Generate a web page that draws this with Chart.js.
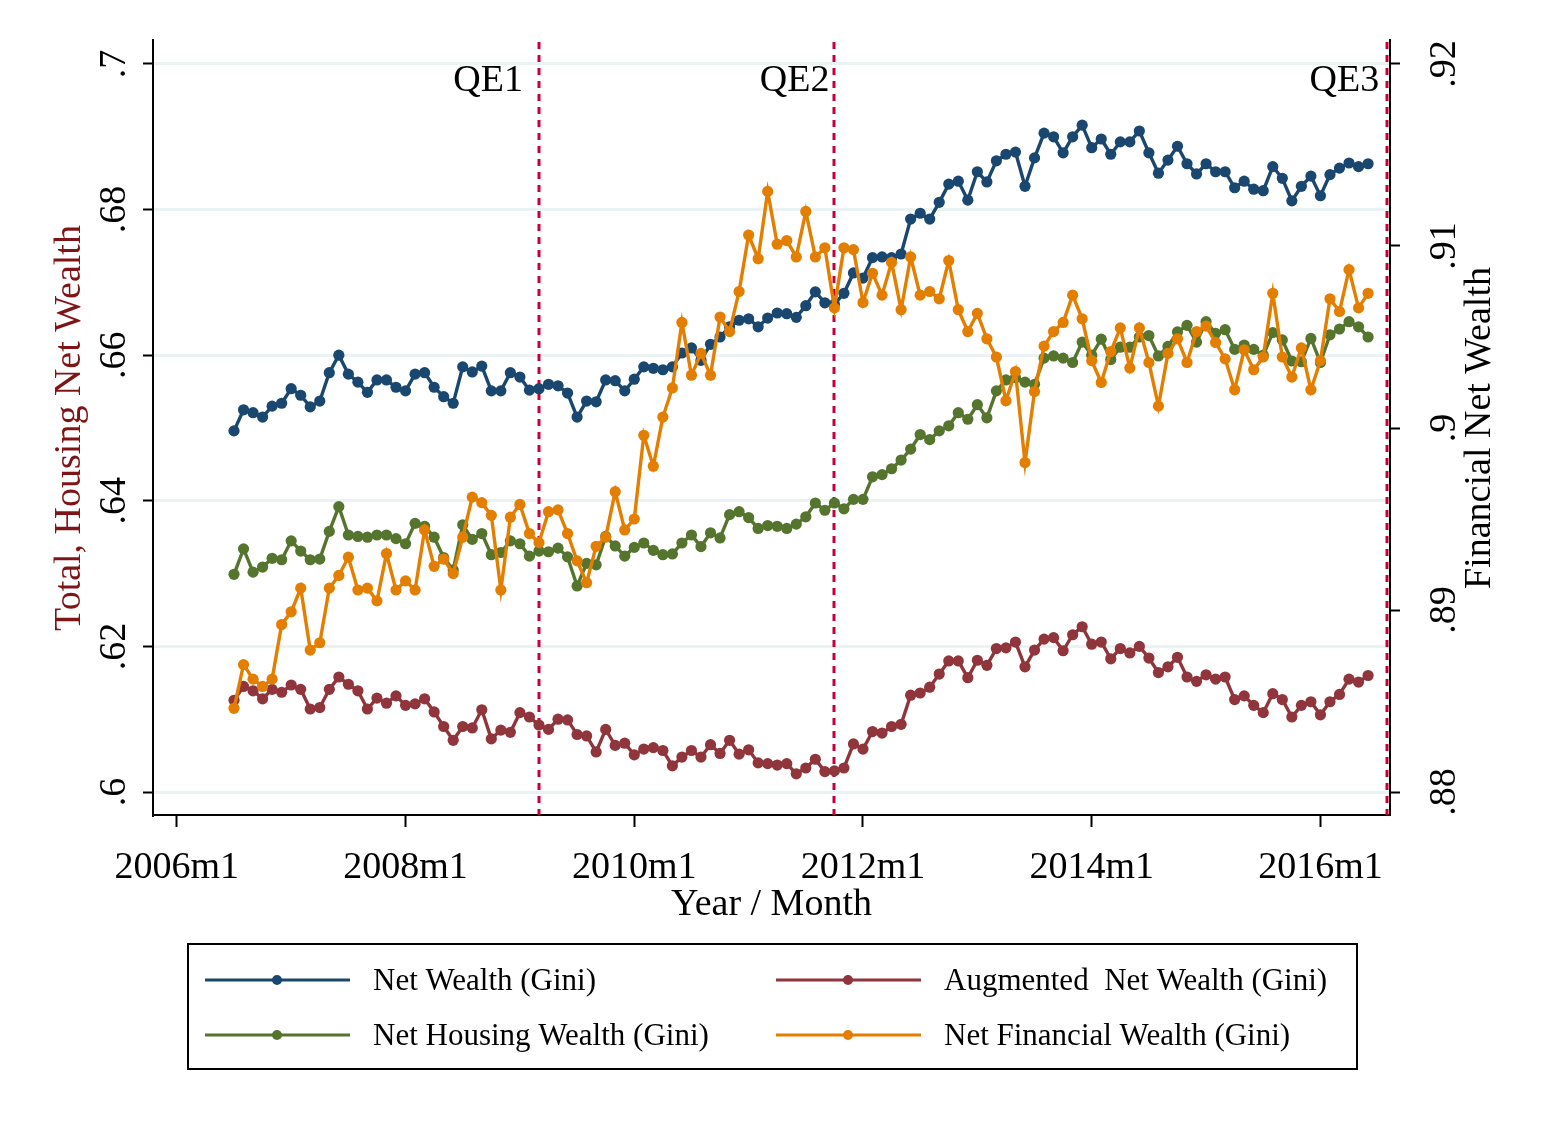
<!DOCTYPE html>
<html>
<head>
<meta charset="utf-8">
<script src="https://cdn.jsdelivr.net/npm/chart.js@4.4.1/dist/chart.umd.min.js"></script>
<style>
html, body { margin: 0; padding: 0; background: #fff; }
canvas { display: block; }
</style>
</head>
<body>
<canvas id="myChart" width="1545" height="1124"></canvas>
<script>
// monthly observations, 2006m7 .. 2016m6
const firstYear = 2006, firstMonth = 7, nObs = 120;
const months = [];
for (let i = 0; i < nObs; i++) {
    const m = firstMonth - 1 + i;
    months.push((firstYear + Math.floor(m / 12)) + 'm' + (m % 12 + 1));
}

const netWealth = [
    .6496, .6525, .6521, .6515, .6530, .6534, .6554, .6545, .6529, .6537,
    .6576, .6600, .6574, .6563, .6549, .6566, .6566, .6556, .6551, .6574,
    .6576, .6556, .6543, .6534, .6584, .6577, .6585, .6551, .6551, .6576,
    .6570, .6552, .6554, .6560, .6558, .6548, .6515, .6537, .6536, .6566,
    .6565, .6551, .6567, .6584, .6582, .6580, .6584, .6603, .6610, .6593,
    .6615, .6625, .6639, .6648, .6650, .6639, .6651, .6658, .6657, .6652,
    .6668, .6687, .6672, .6670, .6685, .6713, .6706, .6734, .6735, .6734,
    .6739, .6787, .6795, .6787, .6810, .6835, .6839, .6813, .6852, .6838,
    .6867, .6876, .6879, .6832, .6871, .6905, .6900, .6878, .6900, .6916,
    .6885, .6897, .6876, .6893, .6893, .6908, .6878, .6850, .6868, .6887,
    .6863, .6849, .6863, .6852, .6852, .6830, .6839, .6828, .6826, .6859,
    .6843, .6812, .6832, .6846, .6819, .6848, .6857, .6864, .6859, .6863
];
const augmentedWealth = [
    .6126, .6145, .6139, .6128, .6141, .6137, .6147, .6141, .6114, .6116,
    .6141, .6158, .6148, .6139, .6114, .6129, .6122, .6132, .6119, .6121,
    .6128, .6110, .6090, .6071, .6090, .6088, .6113, .6073, .6085, .6082,
    .6109, .6103, .6092, .6086, .6100, .6099, .6079, .6077, .6055, .6086,
    .6064, .6067, .6051, .6059, .6061, .6057, .6036, .6048, .6057, .6048,
    .6065, .6053, .6071, .6052, .6058, .6040, .6039, .6037, .6039, .6025,
    .6033, .6045, .6028, .6029, .6033, .6066, .6059, .6083, .6081, .6090,
    .6093, .6133, .6136, .6144, .6162, .6180, .6180, .6157, .6181, .6174,
    .6197, .6198, .6206, .6172, .6195, .6210, .6212, .6194, .6216, .6227,
    .6203, .6206, .6183, .6197, .6191, .6200, .6184, .6164, .6172, .6185,
    .6158, .6152, .6161, .6155, .6158, .6127, .6132, .6119, .6109, .6135,
    .6127, .6103, .6119, .6124, .6106, .6124, .6134, .6155, .6151, .6160
];
const housingWealth = [
    .6299, .6334, .6302, .6309, .6321, .6319, .6345, .6331, .6319, .6320,
    .6358, .6392, .6353, .6351, .6350, .6353, .6353, .6348, .6341, .6369,
    .6365, .6350, .6322, .6305, .6367, .6347, .6355, .6326, .6329, .6345,
    .6341, .6324, .6331, .6330, .6335, .6323, .6283, .6314, .6312, .6351,
    .6338, .6324, .6336, .6342, .6332, .6326, .6327, .6342, .6353, .6337,
    .6356, .6349, .6381, .6385, .6377, .6362, .6366, .6365, .6362, .6368,
    .6378, .6397, .6387, .6397, .6389, .6402, .6402, .6433, .6436, .6444,
    .6456, .6471, .6491, .6484, .6496, .6503, .6521, .6512, .6532, .6514,
    .6551, .6566, .6569, .6563, .6560, .6596, .6599, .6596, .6590, .6618,
    .6600, .6622, .6594, .6611, .6611, .6625, .6627, .6599, .6612, .6632,
    .6641, .6618, .6646, .6630, .6635, .6608, .6614, .6608, .6600, .6631,
    .6621, .6592, .6591, .6623, .6590, .6628, .6636, .6646, .6639, .6625
];
const financialWealth = [
    .8846, .8870, .8862, .8858, .8862, .8892, .8899, .8912, .8878, .8882,
    .8912, .8919, .8929, .8911, .8912, .8905, .8931, .8911, .8916, .8911,
    .8944, .8924, .8928, .8920, .8940, .8962, .8959, .8952, .8911, .8951,
    .8958, .8942, .8937, .8954, .8955, .8942, .8927, .8915, .8935, .8940,
    .8965, .8944, .8950, .8996, .8979, .9006, .9022, .9058, .9029, .9041,
    .9029, .9061, .9053, .9075, .9106, .9093, .9130, .9101, .9103, .9094,
    .9119, .9094, .9099, .9066, .9099, .9098, .9069, .9085, .9073, .9091,
    .9065, .9094, .9073, .9075, .9071, .9092, .9065, .9053, .9063, .9049,
    .9039, .9015, .9031, .8981, .9020, .9045, .9053, .9058, .9073, .9060,
    .9037, .9025, .9042, .9055, .9033, .9055, .9036, .9012, .9041, .9049,
    .9036, .9053, .9056, .9047, .9038, .9021, .9043, .9032, .9039, .9074,
    .9039, .9028, .9044, .9021, .9037, .9071, .9064, .9087, .9066, .9074
];

const xTickLabels = ['2006m1', '2008m1', '2010m1', '2012m1', '2014m1', '2016m1'];
const leftTicks = [0.6, 0.62, 0.64, 0.66, 0.68, 0.7];
const leftTickLabels = ['.6', '.62', '.64', '.66', '.68', '.7'];
const rightTicks = [0.88, 0.89, 0.9, 0.91, 0.92];
const rightTickLabels = ['.88', '.89', '.9', '.91', '.92'];
const qeMonths = ['2009m3', '2011m10', '2016m8'];
const qeLabels = ['QE1', 'QE2', 'QE3'];

// months since 2006m1
function monthNum(label) {
    const [y, m] = label.split('m').map(Number);
    return (y - 2006) * 12 + (m - 1);
}
const pts = vals => vals.map((v, i) => ({ x: monthNum(months[i]), y: v }));

const SERIF = '"Liberation Serif", "Times New Roman", serif';

const qeLines = {
    id: 'qeLines',
    beforeDatasetsDraw(chart) {
        const { ctx, chartArea, scales: { x } } = chart;
        ctx.save();
        ctx.strokeStyle = '#C8003A';
        ctx.lineWidth = 3;
        ctx.setLineDash([7, 6]);
        qeMonths.forEach(m => {
            const px = Math.round(x.getPixelForValue(monthNum(m)));
            ctx.beginPath();
            ctx.moveTo(px, chartArea.top + 2);
            ctx.lineTo(px, chartArea.bottom);
            ctx.stroke();
        });
        ctx.restore();
    }
};

const textLayer = {
    id: 'textLayer',
    afterDraw(chart) {
        const { ctx, scales: { x, y, y2 } } = chart;
        ctx.save();
        ctx.fillStyle = '#000';
        ctx.font = '38px ' + SERIF;
        ctx.textBaseline = 'alphabetic';

        // x tick labels
        ctx.textAlign = 'center';
        x.ticks.forEach((t, i) => ctx.fillText(xTickLabels[i], x.getPixelForValue(t.value), 878));
        ctx.fillText('Year / Month', (x.left + x.right) / 2, 915);

        // QE labels
        ctx.textAlign = 'right';
        const qeGap = [16, 5, 8];
        qeMonths.forEach((m, i) => ctx.fillText(qeLabels[i], x.getPixelForValue(monthNum(m)) - qeGap[i], 91));

        // rotated y tick labels and titles
        const vText = (txt, px, py, color) => {
            ctx.save();
            ctx.translate(px, py);
            ctx.rotate(-Math.PI / 2);
            ctx.textAlign = 'center';
            ctx.fillStyle = color || '#000';
            ctx.fillText(txt, 0, 0);
            ctx.restore();
        };
        y.ticks.forEach((t, i) => vText(leftTickLabels[i], 125, y.getPixelForValue(t.value)));
        y2.ticks.forEach((t, i) => vText(rightTickLabels[i], 1455, y2.getPixelForValue(t.value)));
        vText('Total, Housing Net Wealth', 80, 428, '#7E1416');
        vText('Financial Net Wealth', 1490, 428);

        // legend box
        ctx.lineWidth = 2;
        ctx.strokeStyle = '#000';
        ctx.strokeRect(188, 944, 1169, 125);
        ctx.font = '31px ' + SERIF;
        ctx.textAlign = 'left';
        ctx.textBaseline = 'middle';
        const slots = [[205, 980], [776, 980], [205, 1035], [776, 1035]];
        chart.data.datasets.forEach((ds, i) => {
            const [lx, ly] = slots[i];
            ctx.strokeStyle = ds.borderColor;
            ctx.lineWidth = 3;
            ctx.beginPath();
            ctx.moveTo(lx, ly);
            ctx.lineTo(lx + 145, ly);
            ctx.stroke();
            ctx.fillStyle = ds.borderColor;
            ctx.beginPath();
            ctx.arc(lx + 72, ly, 5, 0, Math.PI * 2);
            ctx.fill();
            ctx.fillStyle = '#000';
            ctx.fillText(ds.label, lx + 168, ly + 2);
        });
        ctx.restore();
    }
};

function series(label, vals, color, axis, order) {
    return {
        label: label,
        data: pts(vals),
        yAxisID: axis,
        order: order,
        borderColor: color,
        backgroundColor: color,
        borderWidth: 3.4,
        pointRadius: 5.6,
        pointBorderWidth: 0,
        pointHoverRadius: 5.6,
        tension: 0
    };
}

const ctx = document.getElementById('myChart').getContext('2d');
new Chart(ctx, {
    type: 'line',
    data: {
        datasets: [
            series('Net Wealth (Gini)', netWealth, '#1A476F', 'y', 2),
            series('Augmented  Net Wealth (Gini)', augmentedWealth, '#90353B', 'y', 3),
            series('Net Housing Wealth (Gini)', housingWealth, '#55752F', 'y', 1),
            series('Net Financial Wealth (Gini)', financialWealth, '#E37E00', 'y2', 0)
        ]
    },
    options: {
        responsive: false,
        animation: false,
        layout: { padding: { top: 40, left: 0, right: 0, bottom: 0 } },
        plugins: { legend: { display: false }, tooltip: { enabled: false } },
        scales: {
            x: {
                type: 'linear',
                min: -2.5,
                max: 127.3,
                afterBuildTicks: s => { s.ticks = xTickLabels.map(l => ({ value: monthNum(l) })); },
                afterFit: s => { s.height = 309; },
                ticks: { display: false },
                grid: { drawOnChartArea: false, tickLength: 12, tickColor: '#000', tickWidth: 2 },
                border: { color: '#000', width: 2 }
            },
            y: {
                position: 'left',
                min: 0.6 - 23 / 7280,
                max: 0.7 + 24 / 7280,
                afterBuildTicks: s => { s.ticks = leftTicks.map(v => ({ value: v })); },
                afterFit: s => { s.width = 153; },
                ticks: { display: false },
                grid: { color: '#EAF2F3', lineWidth: 3, tickLength: 10, tickColor: '#000', tickWidth: 2 },
                border: { color: '#000', width: 2 }
            },
            y2: {
                position: 'right',
                min: 0.88 - 23 / 18200,
                max: 0.92 + 24 / 18200,
                afterBuildTicks: s => { s.ticks = rightTicks.map(v => ({ value: v })); },
                afterFit: s => { s.width = 155; },
                ticks: { display: false },
                grid: { drawOnChartArea: false, tickLength: 10, tickColor: '#000', tickWidth: 2 },
                border: { color: '#000', width: 2 }
            }
        }
    },
    plugins: [qeLines, textLayer]
});
</script>
</body>
</html>
